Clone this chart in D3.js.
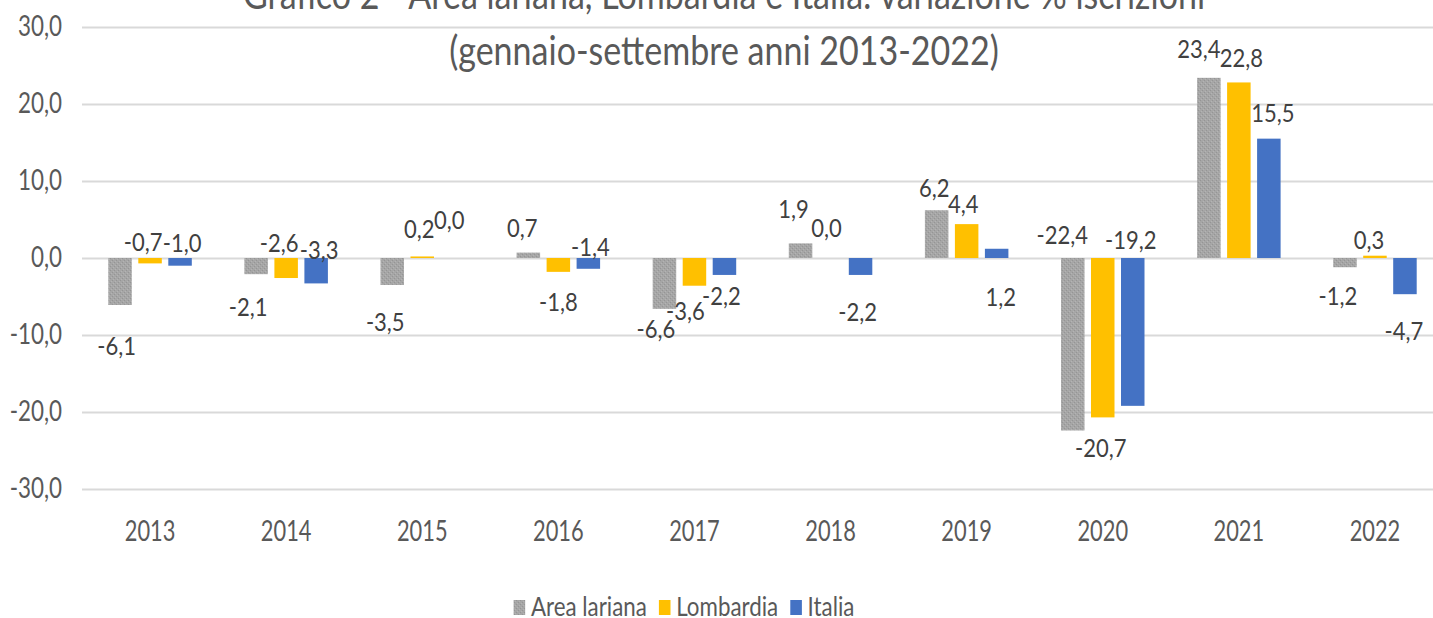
<!DOCTYPE html>
<html>
<head>
<meta charset="utf-8">
<script src="https://cdn.jsdelivr.net/npm/d3@7"></script>
<style>
  body { margin: 0; background: #ffffff; }
  svg { display: block; }
  text { font-family: Lato, "Open Sans", "Noto Sans", sans-serif; }
</style>
</head>
<body>
<svg id="chart" width="1433" height="618"></svg>
<script>
// ---------------- DATA ----------------
const years = ["2013", "2014", "2015", "2016", "2017", "2018", "2019", "2020", "2021", "2022"];
const seriesNames = ["Area lariana", "Lombardia", "Italia"];
const areaLariana = [-6.1, -2.1, -3.5, 0.7, -6.6, 1.9, 6.2, -22.4, 23.4, -1.2];
const lombardia   = [-0.7, -2.6, 0.2, -1.8, -3.6, 0.0, 4.4, -20.7, 22.8, 0.3];
const italia      = [-1.0, -3.3, 0.0, -1.4, -2.2, -2.2, 1.2, -19.2, 15.5, -4.7];
const yTicks = [-30, -20, -10, 0, 10, 20, 30];
const titleLines = [
  "Grafico 2 - Area lariana, Lombardia e Italia: variazione % iscrizioni",
  "(gennaio-settembre anni 2013-2022)"
];

// ---------------- LAYOUT / STYLE ----------------
const W = 1433, H = 618;
const plot = { left: 82, right: 1443, top: 27, bottom: 489 };
const colors = ["url(#grain)", "#ffc000", "#4472c4"];
const barWidth = 23.5;
const textGrey = "#595959";
const labelGrey = "#404040";
// data-label nudges in px [dx, dy] from the bar end (manual placement as in the source)
const labelNudge = [
  [[-3.5, 50], [-8, 42], [-7, 46], [-6, -16], [-8.5, 29], [-7, -25], [-2.5, -13], [-10.5, -186], [-10, -20], [-7, 38]],
  [[-7, -12], [-7, -26], [-3, -18], [0, 39], [-9, 34], [-4, -21], [-3.5, -11], [-2, 40], [2.5, -15], [-6, -7]],
  [[2, -14], [3, -24], [-3, -29], [2, -13], [-3, 30], [-3, 46], [4, 57], [-2, -157], [4, -17], [-1, 46]]
];

const svg = d3.select("#chart");
const defs = svg.append("defs");
const pat = defs.append("pattern").attr("id", "grain").attr("patternUnits", "userSpaceOnUse")
  .attr("width", 4).attr("height", 4);
pat.append("rect").attr("width", 4).attr("height", 4).attr("fill", "#a6a6a6");
pat.append("rect").attr("x", 0).attr("y", 0).attr("width", 1).attr("height", 1).attr("fill", "#959595");
pat.append("rect").attr("x", 2).attr("y", 2).attr("width", 1).attr("height", 1).attr("fill", "#959595");
pat.append("rect").attr("x", 1).attr("y", 3).attr("width", 1).attr("height", 1).attr("fill", "#b4b4b4");
pat.append("rect").attr("x", 3).attr("y", 1).attr("width", 1).attr("height", 1).attr("fill", "#b4b4b4");

svg.append("rect").attr("width", W).attr("height", H).attr("fill", "#ffffff");

function squeeze(sel, sx) {
  sel.each(function () {
    const t = d3.select(this);
    const x = +t.attr("x") || 0;
    const y = +t.attr("y") || 0;
    t.attr("x", null).attr("y", null)
     .attr("transform", `translate(${x},${y}) scale(${sx},1)`);
  });
}

const itLocale = d3.formatLocale({ decimal: ",", thousands: ".", grouping: [3], currency: ["", " €"], minus: "-" });
const fmt = itLocale.format(".1f");

const y = d3.scaleLinear().domain([-30, 30]).range([plot.bottom, plot.top]);
const x0 = d3.scaleBand().domain(years).range([plot.left, plot.right]).padding(0);
const x1 = d3.scalePoint().domain(seriesNames).range([-30, 30]);

// grid + y axis
const yAxis = svg.append("g").attr("transform", `translate(${plot.left},0)`)
  .call(d3.axisLeft(y).tickValues(yTicks).tickSize(-(plot.right - plot.left)).tickPadding(20).tickFormat(fmt));
yAxis.select(".domain").remove();
yAxis.selectAll(".tick line").attr("stroke", "#d9d9d9").attr("stroke-width", 2);
yAxis.selectAll(".tick text").attr("fill", textGrey).style("font-size", "28px");
squeeze(yAxis.selectAll(".tick text"), 0.8);

// x axis labels
const xAxis = svg.append("g").attr("transform", `translate(0,${plot.bottom})`)
  .call(d3.axisBottom(x0).tickSize(0).tickPadding(32));
xAxis.select(".domain").remove();
xAxis.selectAll(".tick text").attr("fill", textGrey).style("font-size", "28px");
squeeze(xAxis.selectAll(".tick text"), 0.78);

// bars
const seriesValues = [areaLariana, lombardia, italia];
const rows = [];
seriesValues.forEach((vals, s) => vals.forEach((v, i) => rows.push({ s, i, v, year: years[i], name: seriesNames[s] })));

const cx = d => x0(d.year) + x0.bandwidth() / 2 + x1(d.name);

svg.append("g").selectAll("rect").data(rows).join("rect")
  .attr("x", d => cx(d) - barWidth / 2)
  .attr("width", barWidth)
  .attr("y", d => y(Math.max(0, d.v)))
  .attr("height", d => Math.abs(y(d.v) - y(0)))
  .attr("fill", d => colors[d.s]);

// data labels
const labels = svg.append("g").selectAll("text").data(rows).join("text")
  .attr("x", d => cx(d) + labelNudge[d.s][d.i][0])
  .attr("y", d => y(d.v) + labelNudge[d.s][d.i][1])
  .attr("text-anchor", "middle")
  .attr("fill", labelGrey)
  .style("font-size", "25px")
  .text(d => fmt(d.v));
squeeze(labels, 0.88);

// title
const title = svg.append("g").selectAll("text").data(titleLines).join("text")
  .attr("x", 724)
  .attr("y", (d, i) => 9 + i * 56)
  .attr("text-anchor", "middle")
  .attr("fill", textGrey)
  .style("font-size", "41px")
  .text(d => d);
squeeze(title, 0.83);

// legend
const legendSx = 0.86;
const lg = svg.append("g");
const items = lg.selectAll("g").data(seriesNames).join("g");
items.append("rect").attr("width", 11.6).attr("height", 15).attr("y", 600)
  .attr("fill", (d, i) => colors[i]);
items.append("text").attr("y", 615.5).attr("fill", textGrey).style("font-size", "26px").text(d => d);
let widths = [];
items.select("text").each(function () { widths.push(this.getComputedTextLength() * legendSx); });
const sqW = 11.6, gapIn = 5.7, gapOut = 12;
const total = d3.sum(widths) + seriesNames.length * (sqW + gapIn) + (seriesNames.length - 1) * gapOut;
let cursor = 684 - total / 2;
items.each(function (d, i) {
  const g = d3.select(this);
  g.select("rect").attr("x", cursor);
  g.select("text").attr("x", cursor + sqW + gapIn);
  cursor += sqW + gapIn + widths[i] + gapOut;
});
squeeze(items.select("text"), legendSx);
</script>
</body>
</html>
